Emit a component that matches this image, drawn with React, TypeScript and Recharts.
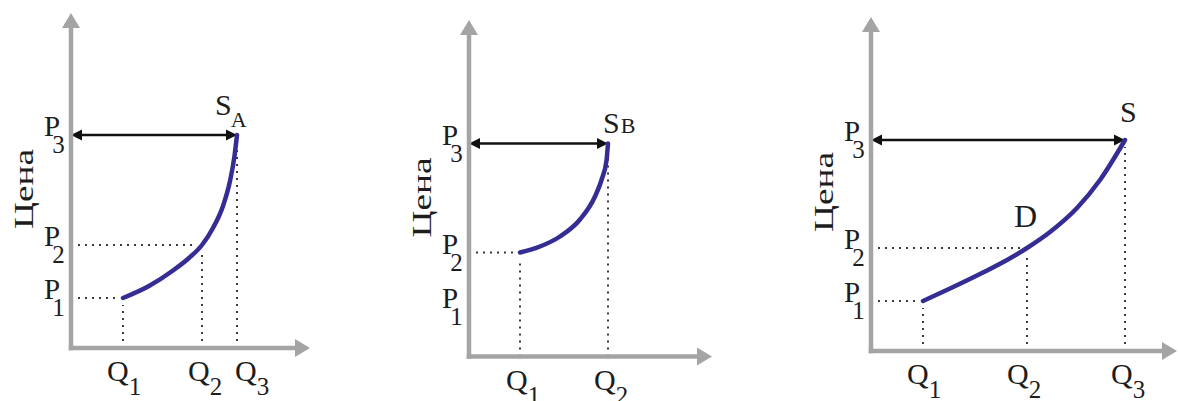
import React from 'react';
import { ComposedChart, Line, XAxis, YAxis, ReferenceLine, ReferenceDot } from 'recharts';

const SERIF = 'Liberation Serif';
const INK = '#1d1d1d';
const AXIS_GRAY = '#a4a4a4';
const CURVE_BLUE = '#352c94';
const GUIDE = '#3a3a3a';

// ---- Panel A: supply curve S_A ----
const qtyTicksA = [5.2, 13.1, 16.6];
const qtySubsA = ['1', '2', '3'];
const priceTicksA = [5.0, 10.3, 21.3];
const priceSubsA = ['1', '2', '3'];
const curveQtyA = [5.2, 7.8, 10.2, 11.8, 13.1, 14.2, 15.2, 15.9, 16.35, 16.6];
const curvePriceA = [5.0, 6.2, 7.75, 9.0, 10.3, 12.0, 14.2, 16.7, 19.2, 21.3];

// ---- Panel B: supply curve S_B ----
const qtyTicksB = [5.1, 13.9];
const qtySubsB = ['1', '2'];
const priceTicksB = [5.0, 10.4, 21.3];
const priceSubsB = ['1', '2', '3'];
const curveQtyB = [5.1, 7.1, 9.1, 11.1, 12.6, 13.3, 13.75, 13.9];
const curvePriceB = [10.4, 11.0, 12.0, 13.7, 16.0, 17.8, 19.6, 21.3];

// ---- Panel C: combined curve S with point D ----
const qtyTicksC = [5.2, 15.6, 25.4];
const qtySubsC = ['1', '2', '3'];
const priceTicksC = [5.0, 10.3, 21.1];
const priceSubsC = ['1', '2', '3'];
const curveQtyC = [5.2, 7.9, 11.2, 13.6, 15.6, 17.9, 20.6, 22.9, 25.4];
const curvePriceC = [5.0, 6.25, 7.85, 9.1, 10.3, 11.9, 14.3, 17.1, 21.1];

const AXIS_TITLE = 'Цена';

const Y_AXIS_W = 60;

type Guide = { q: number; p: number; horizontal: boolean };

type PanelProps = {
  left: number;
  width: number;
  margin: { top: number; right: number; bottom: number; left: number };
  xAxisH: number;
  xMax: number;
  yMax: number;
  qty: number[];
  price: number[];
  qTicks: number[];
  qSubs: string[];
  qNudge: number[];
  pTicks: number[];
  pSubs: string[];
  guides: Guide[];
  arrowQ: number;
  arrowP: number;
  curveName: string;
  curveSub: string;
  curveLabelDx: number;
  curveLabelDy: number;
  subDx: number;
  subDy: number;
  subSize: number;
  extraLabel?: { q: number; p: number; text: string; dx: number; dy: number };
};

// Straight segment ending in a filled arrowhead (optionally at both ends).
function arrowShape(color: string, width: number, head: number, half: number, both: boolean, cap: 'butt' | 'square') {
  return (props: any) => {
    const { x1, y1, x2, y2 } = props;
    const dx = x2 - x1;
    const dy = y2 - y1;
    const len = Math.hypot(dx, dy) || 1;
    const ux = dx / len;
    const uy = dy / len;
    const px = -uy;
    const py = ux;
    const tri = (tx: number, ty: number, dirx: number, diry: number) => {
      const bx = tx - dirx * head;
      const by = ty - diry * head;
      return `${tx},${ty} ${bx + px * half},${by + py * half} ${bx - px * half},${by - py * half}`;
    };
    const sx = both ? x1 + ux * head * 0.7 : x1;
    const sy = both ? y1 + uy * head * 0.7 : y1;
    const ex = x2 - ux * head * 0.7;
    const ey = y2 - uy * head * 0.7;
    return (
      <g>
        <line x1={sx} y1={sy} x2={ex} y2={ey} stroke={color} strokeWidth={width} strokeLinecap={cap} />
        <polygon points={tri(x2, y2, ux, uy)} fill={color} />
        {both && <polygon points={tri(x1, y1, -ux, -uy)} fill={color} />}
      </g>
    );
  };
}

// Dotted guide that stops a little short of the curve point (segment end).
function guideShape(trim: number) {
  return (props: any) => {
    const { x1, y1, x2, y2 } = props;
    const dx = x2 - x1;
    const dy = y2 - y1;
    const len = Math.hypot(dx, dy) || 1;
    const ex = x2 - (dx / len) * trim;
    const ey = y2 - (dy / len) * trim;
    return (
      <line x1={x1} y1={y1} x2={ex} y2={ey} stroke={GUIDE} strokeWidth={2} strokeDasharray="2 5" />
    );
  };
}

const axisArrow = arrowShape(AXIS_GRAY, 4.5, 15, 9, false, 'square');
const priceArrow = arrowShape('#111111', 2.6, 11, 5.5, true, 'butt');
const guideLine = guideShape(7);
const emptyShape = () => <g />;

const textStyle = { fontFamily: SERIF };

function makePriceTick(subs: string[]) {
  return (props: any) => {
    const { x, y, index } = props;
    return (
      <text x={x - 27} y={y + 1} fontSize={29} fill={INK} style={textStyle}>
        P
        <tspan dx={-8} dy={17} fontSize={25}>{subs[index]}</tspan>
      </text>
    );
  };
}

function makeQtyTick(subs: string[], nudge: number[]) {
  return (props: any) => {
    const { x, y, index } = props;
    return (
      <text x={x - 14 + (nudge[index] || 0)} y={y + 33} fontSize={30} fill={INK} style={textStyle}>
        Q
        <tspan dy={14} fontSize={25}>{subs[index]}</tspan>
      </text>
    );
  };
}

const renderAxisTitle = (props: any) => {
  const vb = props.viewBox;
  const cx = vb.x + vb.width - 48;
  const cy = vb.y + vb.height - 159;
  return (
    <text
      x={cx}
      y={cy}
      transform={`rotate(-90 ${cx} ${cy})`}
      textAnchor="middle"
      dominantBaseline="central"
      fontSize={28}
      fill={INK}
      style={textStyle}
      textLength={80}
      lengthAdjust="spacingAndGlyphs"
    >
      {AXIS_TITLE}
    </text>
  );
};

function Panel(props: PanelProps) {
  const data = props.qty.map((q, i) => ({ q, p: props.price[i] }));
  const height = 401;
  const curveLabel = (lp: any) => {
    const vb = lp.viewBox;
    return (
      <text x={vb.x + props.curveLabelDx} y={vb.y + props.curveLabelDy} fontSize={30} fill={INK} style={textStyle}>
        {props.curveName}
        {props.curveSub && (
          <tspan dx={props.subDx} dy={props.subDy} fontSize={props.subSize}>
            {props.curveSub}
          </tspan>
        )}
      </text>
    );
  };
  const extra = props.extraLabel;
  return (
    <div style={{ position: 'absolute', left: props.left, top: 0 }}>
      <ComposedChart width={props.width} height={height} data={data} margin={props.margin}>
        <XAxis
          dataKey="q"
          type="number"
          domain={[0, props.xMax]}
          ticks={props.qTicks}
          interval={0}
          height={props.xAxisH}
          axisLine={false}
          tickLine={false}
          tickSize={0}
          tickMargin={0}
          tick={makeQtyTick(props.qSubs, props.qNudge)}
          allowDataOverflow
        />
        <YAxis
          type="number"
          domain={[0, props.yMax]}
          ticks={props.pTicks}
          interval={0}
          width={Y_AXIS_W}
          axisLine={false}
          tickLine={false}
          tickSize={0}
          tickMargin={0}
          tick={makePriceTick(props.pSubs)}
          label={{ content: renderAxisTitle }}
          allowDataOverflow
        />
        {props.guides.map((g, i) => (
          <ReferenceLine
            key={`h${i}`}
            segment={[{ x: 0, y: g.p }, { x: g.q, y: g.p }]}
            shape={g.horizontal ? guideLine : emptyShape}
            ifOverflow="visible"
          />
        ))}
        {props.guides.map((g, i) => (
          <ReferenceLine
            key={`v${i}`}
            segment={[{ x: g.q, y: 0 }, { x: g.q, y: g.p }]}
            shape={guideLine}
            ifOverflow="visible"
          />
        ))}
        <ReferenceLine
          segment={[{ x: 0, y: props.arrowP }, { x: props.arrowQ, y: props.arrowP }]}
          shape={priceArrow}
          ifOverflow="visible"
        />
        <Line
          type="monotone"
          dataKey="p"
          stroke={CURVE_BLUE}
          strokeWidth={4.5}
          strokeLinecap="round"
          dot={false}
          isAnimationActive={false}
        />
        <ReferenceLine segment={[{ x: 0, y: 0 }, { x: 0, y: props.yMax }]} shape={axisArrow} ifOverflow="visible" />
        <ReferenceLine segment={[{ x: 0, y: 0 }, { x: props.xMax, y: 0 }]} shape={axisArrow} ifOverflow="visible" />
        <ReferenceDot
          x={props.arrowQ}
          y={props.arrowP}
          r={0}
          fill="none"
          stroke="none"
          ifOverflow="visible"
          label={{ content: curveLabel }}
        />
        {extra && (
          <ReferenceDot
            x={extra.q}
            y={extra.p}
            r={0}
            fill="none"
            stroke="none"
            ifOverflow="visible"
            label={{
              content: (lp: any) => (
                <text
                  x={lp.viewBox.x + extra.dx}
                  y={lp.viewBox.y + extra.dy}
                  fontSize={32}
                  fill={INK}
                  style={textStyle}
                >
                  {extra.text}
                </text>
              ),
            }}
          />
        )}
      </ComposedChart>
    </div>
  );
}

export default function App() {
  return (
    <div style={{ position: 'absolute', left: 0, top: 0, width: 1178, height: 401, background: '#ffffff', overflow: 'hidden' }}>
      <Panel
        left={0}
        width={330}
        margin={{ top: 13, right: 20, bottom: 3, left: 71 - Y_AXIS_W }}
        xAxisH={50}
        xMax={23.9}
        yMax={33.5}
        qty={curveQtyA}
        price={curvePriceA}
        qTicks={qtyTicksA}
        qSubs={qtySubsA}
        qNudge={[-2, 0, 12]}
        pTicks={priceTicksA}
        pSubs={priceSubsA}
        guides={[
          { q: qtyTicksA[0], p: priceTicksA[0], horizontal: true },
          { q: qtyTicksA[1], p: priceTicksA[1], horizontal: true },
          { q: qtyTicksA[2], p: priceTicksA[2], horizontal: false },
        ]}
        arrowQ={qtyTicksA[2]}
        arrowP={priceTicksA[2]}
        curveName="S"
        curveSub="A"
        curveLabelDx={-22}
        curveLabelDy={-20}
        subDx={-1}
        subDy={12}
        subSize={22}
      />
      <Panel
        left={390}
        width={340}
        margin={{ top: 20, right: 18, bottom: 4.5, left: 79 - Y_AXIS_W }}
        xAxisH={40}
        xMax={24.3}
        yMax={33.65}
        qty={curveQtyB}
        price={curvePriceB}
        qTicks={qtyTicksB}
        qSubs={qtySubsB}
        qNudge={[0, 0]}
        pTicks={priceTicksB}
        pSubs={priceSubsB}
        guides={[
          { q: qtyTicksB[0], p: priceTicksB[1], horizontal: true },
          { q: qtyTicksB[1], p: priceTicksB[2], horizontal: false },
        ]}
        arrowQ={qtyTicksB[1]}
        arrowP={priceTicksB[2]}
        curveName="S"
        curveSub="B"
        curveLabelDx={-5}
        curveLabelDy={-11}
        subDx={1}
        subDy={0}
        subSize={22}
      />
      <Panel
        left={790}
        width={388}
        margin={{ top: 17, right: 1, bottom: 5, left: 81 - Y_AXIS_W }}
        xAxisH={45}
        xMax={30.6}
        yMax={33.4}
        qty={curveQtyC}
        price={curvePriceC}
        qTicks={qtyTicksC}
        qSubs={qtySubsC}
        qNudge={[-2, -6, 0]}
        pTicks={priceTicksC}
        pSubs={priceSubsC}
        guides={[
          { q: qtyTicksC[0], p: priceTicksC[0], horizontal: true },
          { q: qtyTicksC[1], p: priceTicksC[1], horizontal: true },
          { q: qtyTicksC[2], p: priceTicksC[2], horizontal: false },
        ]}
        arrowQ={qtyTicksC[2]}
        arrowP={priceTicksC[2]}
        curveName="S"
        curveSub=""
        curveLabelDx={-5}
        curveLabelDy={-18}
        subDx={0}
        subDy={0}
        subSize={21}
        extraLabel={{ q: qtyTicksC[1], p: priceTicksC[1], text: 'D', dx: -13, dy: -21 }}
      />
    </div>
  );
}
